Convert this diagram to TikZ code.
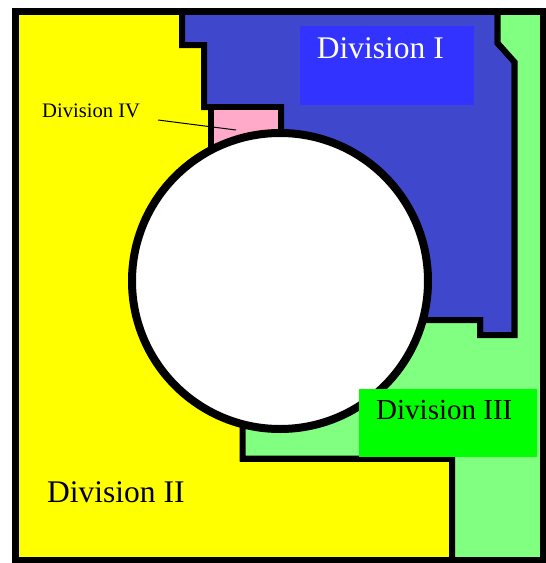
\documentclass[tikz,border=0pt]{standalone}
\usepackage{fontspec}
\setmainfont{Liberation Serif}
\definecolor{yel}{RGB}{255,255,0}
\definecolor{blu}{RGB}{63,72,204}
\definecolor{grn}{RGB}{128,255,128}
\definecolor{pnk}{RGB}{255,170,200}
\definecolor{boxblue}{RGB}{51,51,255}
\definecolor{boxgreen}{RGB}{0,255,0}
\begin{document}
\begin{tikzpicture}[x=1pt,y=-1pt,
  region/.style={draw=black,line width=6pt,line join=miter},
  lbl/.style={inner sep=0pt,anchor=base west},
  labelbox/.style={inner sep=0pt,anchor=north west,draw=none}]
\useasboundingbox (0,0) rectangle (546,563);
\fill[white] (0,0) rectangle (546,563);
% Division II (yellow)
\filldraw[region,fill=yel] (15.5,11.5) -- (182,11.5) -- (182,45) -- (204,45) -- (204,107) -- (210.5,107) -- (210.5,281) -- (242.5,281) -- (242.5,458.5) -- (452,458.5) -- (452,560) -- (15.5,560) -- cycle;
% Division I (blue)
\filldraw[region,fill=blu] (182,11.5) -- (497.5,11.5) -- (497.5,43) -- (514.5,62) -- (514.5,335) -- (480,335) -- (480,320) -- (281,320) -- (281,107) -- (204,107) -- (204,45) -- (182,45) -- cycle;
% Division III (green)
\filldraw[region,fill=grn] (497.5,11.5) -- (543.5,11.5) -- (543.5,560) -- (452,560) -- (452,458.5) -- (242.5,458.5) -- (242.5,320) -- (480,320) -- (480,335) -- (514.5,335) -- (514.5,62) -- (497.5,43) -- cycle;
% Division IV (pink)
\filldraw[region,fill=pnk] (210.5,107) -- (281,107) -- (281,200) -- (210.5,200) -- cycle;
% central hole
\node[circle,draw=black,line width=8pt,fill=white,minimum size=296pt,inner sep=0pt] (hole) at (280,281) {};
% outer frame
\draw[line width=7pt] (15.5,11.5) rectangle (543.5,560);
% label boxes
\node[labelbox,fill=boxblue,minimum width=174pt,minimum height=79pt] (box1) at (300,26) {};
\node[labelbox,fill=boxgreen,minimum width=178pt,minimum height=68pt] (box3) at (359,389) {};
% labels
\node[lbl,text=white,font=\fontsize{31.5}{31.5}\selectfont] (t1) at (316.7,58) {Division I};
\node[lbl,text=black,font=\fontsize{31.5}{31.5}\selectfont] (t2) at (47,502) {Division II};
\node[lbl,text=black,font=\fontsize{29}{29}\selectfont] (t3) at (376,419) {Division III};
\node[lbl,text=black,font=\fontsize{20.6}{20.6}\selectfont] (t4) at (42,117) {Division IV};
% leader line
\coordinate (l1) at (158,120);
\coordinate (l2) at (236,130);
\draw[line width=1pt] (l1) -- (l2);
\end{tikzpicture}
\end{document}
